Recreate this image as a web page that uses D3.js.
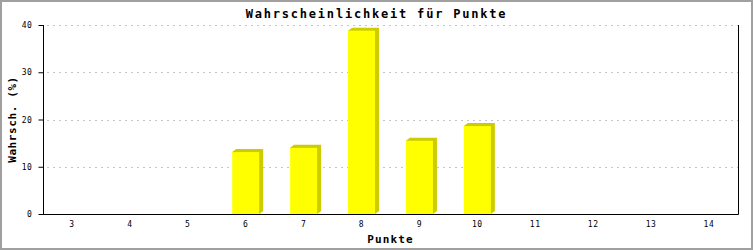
<!DOCTYPE html>
<html>
<head>
<meta charset="utf-8">
<script src="https://cdn.jsdelivr.net/npm/d3@7"></script>
<style>
  body { margin: 0; background: #fff; }
  svg { display: block; }
  text { font-family: 'DejaVu Sans Mono', 'Liberation Mono', monospace; }
</style>
</head>
<body>
<div id="chart"></div>
<script>
var categories = [3, 4, 5, 6, 7, 8, 9, 10, 11, 12, 13, 14];
var values = [0, 0, 0, 13.1, 14.0, 38.8, 15.5, 18.6, 0, 0, 0, 0];
var yTicks = [0, 10, 20, 30, 40];
var title = 'Wahrscheinlichkeit für Punkte';
var xTitle = 'Punkte';
var yTitle = 'Wahrsch. (%)';

var width = 753, height = 250;
var margin = { top: 25, right: 15, bottom: 36, left: 43 };
var yellow = '#ffff00';
var side = '#cccc00';
var depthX = 4, depthY = 3;

var data = categories.map(function(c, i) { return { cat: c, value: values[i] }; });

var svg = d3.select('#chart').append('svg')
  .attr('width', width)
  .attr('height', height);

svg.append('rect')
  .attr('x', 1).attr('y', 1)
  .attr('width', width - 2).attr('height', height - 2)
  .attr('fill', '#fff')
  .attr('stroke', '#a0a0a0')
  .attr('stroke-width', 2);

var x = d3.scaleBand()
  .domain(categories)
  .range([margin.left, width - margin.right])
  .paddingInner(0.534)
  .paddingOuter(0.267);

var y = d3.scaleLinear()
  .domain([0, 40])
  .range([height - margin.bottom, margin.top]);

// grid
svg.selectAll('line.grid')
    .data(yTicks.filter(function(d) { return d > 0; }))
  .enter().append('line')
    .attr('class', 'grid')
    .attr('x1', margin.left + 1)
    .attr('x2', width - margin.right)
    .attr('y1', function(d) { return Math.round(y(d)) + 0.5; })
    .attr('y2', function(d) { return Math.round(y(d)) + 0.5; })
    .attr('stroke', '#c4c4c4')
    .attr('stroke-dasharray', '2,4')
    .attr('stroke-dashoffset', -3);

// bars
var bars = svg.selectAll('g.bar')
    .data(data.filter(function(d) { return d.value > 0; }))
  .enter().append('g')
    .attr('class', 'bar');

bars.append('polygon')
  .attr('fill', side)
  .attr('points', function(d) {
    var x0 = x(d.cat), x1 = x(d.cat) + x.bandwidth();
    var top = y(d.value), bot = y(0);
    return [
      [x0, top], [x0 + depthX, top - depthY], [x1 + depthX, top - depthY],
      [x1 + depthX, bot - depthY], [x1, bot]
    ].join(' ');
  });

bars.append('rect')
  .attr('x', function(d) { return x(d.cat); })
  .attr('y', function(d) { return y(d.value); })
  .attr('width', x.bandwidth())
  .attr('height', function(d) { return y(0) - y(d.value); })
  .attr('fill', yellow);

// axes
var yAxis = svg.append('g')
  .attr('transform', 'translate(' + (margin.left + 0.5) + ',0)')
  .call(d3.axisLeft(y).tickValues(yTicks).tickSize(5).tickPadding(6));
yAxis.select('.domain').attr('d', 'M0,' + y(40) + 'V' + (y(0) + 0.5));
yAxis.selectAll('text')
  .attr('font-size', '8px')
  .attr('font-family', 'DejaVu Sans Mono, monospace')
  .attr('letter-spacing', '0.6px')
  .attr('fill', '#000');

var xAxis = svg.append('g')
  .attr('transform', 'translate(0,' + (y(0) + 0.5) + ')')
  .call(d3.axisBottom(x).tickSize(0).tickPadding(7));
xAxis.select('.domain').attr('d', 'M' + margin.left + ',0H' + (width - margin.right + 0.5));
xAxis.selectAll('text')
  .attr('font-size', '8px')
  .attr('font-family', 'DejaVu Sans Mono, monospace')
  .attr('letter-spacing', '0.6px')
  .attr('fill', '#000');

svg.append('line')
  .attr('x1', width - margin.right + 0.5)
  .attr('x2', width - margin.right + 0.5)
  .attr('y1', y(40))
  .attr('y2', y(0) + 0.5)
  .attr('stroke', '#000');

// titles
svg.append('text')
  .attr('x', (width) / 2)
  .attr('y', 18)
  .attr('text-anchor', 'middle')
  .attr('font-size', '12px')
  .attr('font-weight', 'bold')
  .attr('letter-spacing', '1.8px')
  .text(title);

svg.append('text')
  .attr('x', (margin.left + width - margin.right) / 2)
  .attr('y', 243)
  .attr('text-anchor', 'middle')
  .attr('font-size', '11px')
  .attr('font-weight', 'bold')
  .attr('letter-spacing', '1.1px')
  .text(xTitle);

svg.append('text')
  .attr('transform', 'translate(16,' + (y(0) + y(40)) / 2 + ') rotate(-90)')
  .attr('text-anchor', 'middle')
  .attr('font-size', '11px')
  .attr('font-weight', 'bold')
  .attr('letter-spacing', '0.6px')
  .text(yTitle);
</script>
</body>
</html>
